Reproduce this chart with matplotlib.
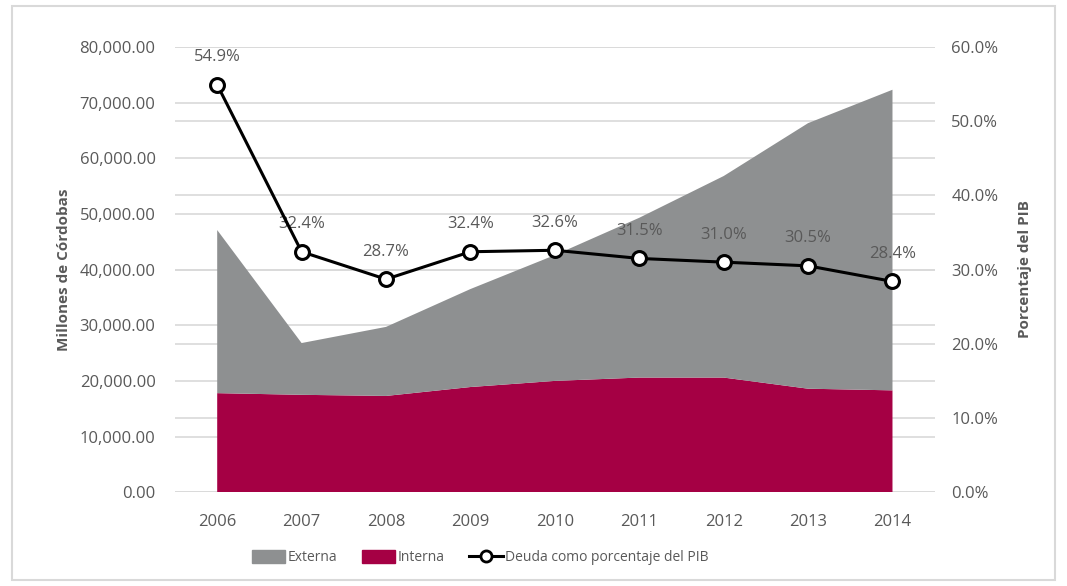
import matplotlib
matplotlib.use("Agg")
import matplotlib.pyplot as plt
from matplotlib.patches import Patch, Rectangle
from matplotlib.lines import Line2D
from matplotlib.ticker import FuncFormatter, MultipleLocator

plt.rcParams["font.family"] = ["Open Sans", "DejaVu Sans"]

years = [2006, 2007, 2008, 2009, 2010, 2011, 2012, 2013, 2014]
interna = [17800, 17500, 17300, 18900, 20000, 20600, 20600, 18600, 18300]
total = [47100, 26800, 29700, 36500, 42600, 49300, 56800, 66300, 72300]
externa = [t - i for t, i in zip(total, interna)]
pct_pib = [54.9, 32.4, 28.7, 32.4, 32.6, 31.5, 31.0, 30.5, 28.4]

GRAY = "#8e9091"
RED = "#a50044"
TXT = "#595959"
GRID = "#d9d9d9"

fig = plt.figure(figsize=(10.67, 5.86), dpi=100)
fig.patches.append(Rectangle((0.011, 0.01), 0.978, 0.98, transform=fig.transFigure,
                             fill=False, edgecolor=GRID, lw=1.5))

ax = fig.add_axes([0.164, 0.160, 0.712, 0.760])
ax2 = ax.twinx()

# areas (stacked: interna at the bottom, externa on top)
ax.stackplot(years, interna, externa, colors=[RED, GRAY], zorder=2)
ax.set_xlim(2005.5, 2014.5)
ax.set_ylim(0, 80000)
ax.yaxis.set_major_locator(MultipleLocator(10000))
ax.yaxis.set_major_formatter(FuncFormatter(lambda v, p: f"{v:,.2f}"))
ax.set_xticks(years)
ax.grid(axis="y", color=GRID, lw=1.2, zorder=0)
ax.set_axisbelow(True)
# gridlines of the secondary axis, drawn under the areas
for v in range(0, 61, 10):
    ax.axhline(v / 60 * 80000, color=GRID, lw=1.2, zorder=0)

ax2.set_ylim(0, 60)
ax2.yaxis.set_major_locator(MultipleLocator(10))
ax2.yaxis.set_major_formatter(FuncFormatter(lambda v, p: f"{v:.1f}%"))
ax2.plot(years, pct_pib, color="black", lw=2.2, marker="o", ms=10,
         mfc="white", mec="black", mew=2.2, zorder=5)
for x, v in zip(years, pct_pib):
    ax2.annotate(f"{v:.1f}%", (x, v), xytext=(0, 14), textcoords="offset points",
                 ha="center", va="bottom", color=TXT, fontsize=12)

ax.set_zorder(1)
ax2.set_zorder(2)
ax2.patch.set_visible(False)

for a in (ax, ax2):
    for s in a.spines.values():
        s.set_visible(False)
    a.tick_params(length=0, labelsize=12, labelcolor=TXT)
ax.tick_params(axis="x", pad=16)
ax.tick_params(axis="y", pad=14)
ax2.tick_params(axis="y", pad=12)

ax.set_ylabel("Millones de Córdobas", fontsize=11, fontweight="bold", color=TXT, labelpad=6)
ax2.set_ylabel("Porcentaje del PIB", fontsize=11, fontweight="bold", color=TXT, labelpad=14)

handles = [Patch(color=GRAY, label="Externa"),
           Patch(color=RED, label="Interna"),
           Line2D([0], [0], color="black", lw=2.2, marker="o", ms=8, mfc="white",
                  mec="black", mew=2, label="Deuda como porcentaje del PIB")]
fig.legend(handles=handles, loc="center", bbox_to_anchor=(0.45, 0.048), ncol=3,
           frameon=False, labelcolor=TXT, fontsize=10, handlelength=2.4,
           handleheight=1.0, handletextpad=0.15, columnspacing=1.8)

fig.savefig("out.png", dpi=100)
